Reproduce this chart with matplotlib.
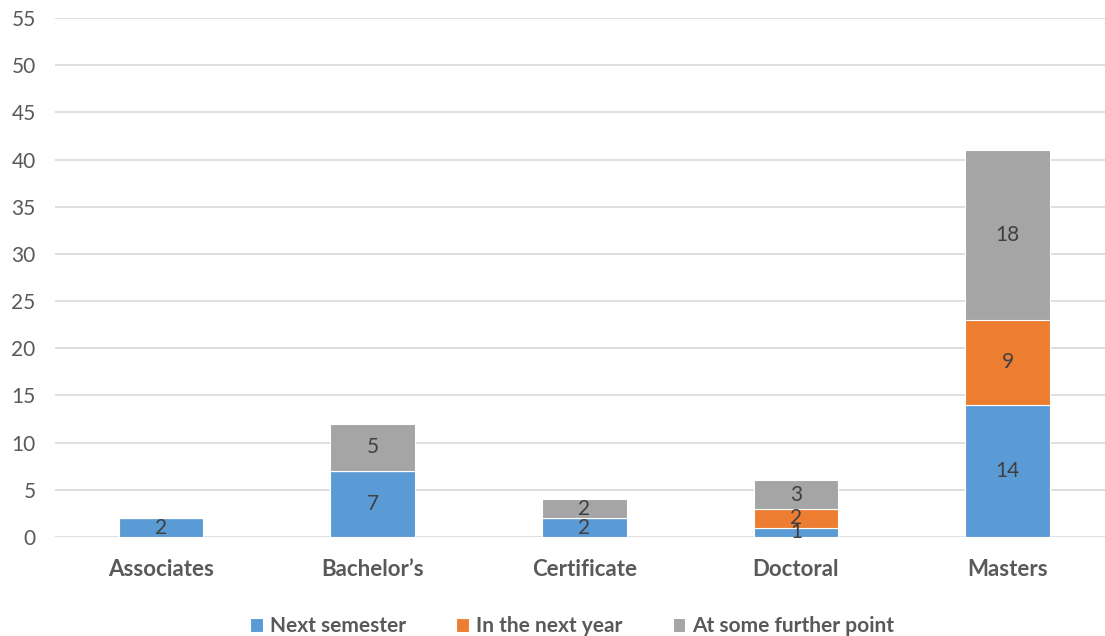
import numpy as np
import matplotlib.pyplot as plt

plt.rcParams['font.family'] = ['Lato', 'DejaVu Sans']

categories = ['Associates', 'Bachelor\u2019s', 'Certificate', 'Doctoral', 'Masters']
next_semester = [2, 7, 2, 1, 14]
next_year = [0, 0, 0, 2, 9]
further_point = [0, 5, 2, 3, 18]
series_names = ['Next semester', 'In the next year', 'At some further point']
colors = ['#5B9BD5', '#ED7D31', '#A5A5A5']

fig = plt.figure(figsize=(11.05, 6.36), dpi=100)
ax = fig.add_axes([55 / 1105, 99 / 636, 1050 / 1105, 519 / 636])

x = np.arange(len(categories))
bottom = np.zeros(len(categories))
for vals, name, c in zip([next_semester, next_year, further_point], series_names, colors):
    vals = np.array(vals, dtype=float)
    ax.bar(x, vals, 0.4, bottom=bottom, color=c, label=name,
           edgecolor='white', linewidth=0.8, zorder=3)
    for xi, v, b in zip(x, vals, bottom):
        if v > 0:
            ax.text(xi, b + v / 2, '%d' % v, ha='center', va='center',
                    fontsize=15, color='#404040', zorder=4)
    bottom += vals

ax.set_xlim(-0.5, 4.46)
ax.set_ylim(0, 55)
ax.set_yticks(np.arange(0, 56, 5))
ax.yaxis.grid(True, color='#D9D9D9', linewidth=1.2, zorder=0)
for s in ax.spines.values():
    s.set_visible(False)
ax.tick_params(axis='both', length=0)
ax.tick_params(axis='y', labelsize=15, labelcolor='#595959', pad=14)
ax.set_xticks(x)
ax.set_xticklabels(categories, fontsize=16, fontweight='bold', color='#595959')
ax.tick_params(axis='x', pad=16)

leg = fig.legend(loc='lower center', bbox_to_anchor=(0.518, -0.03), ncol=3, frameon=False,
                 prop={'size': 15, 'weight': 'bold'}, handlelength=0.6, handleheight=0.6,
                 columnspacing=2.4, handletextpad=0.35)
for t in leg.get_texts():
    t.set_color('#595959')

fig.savefig('out.png', dpi=100)
